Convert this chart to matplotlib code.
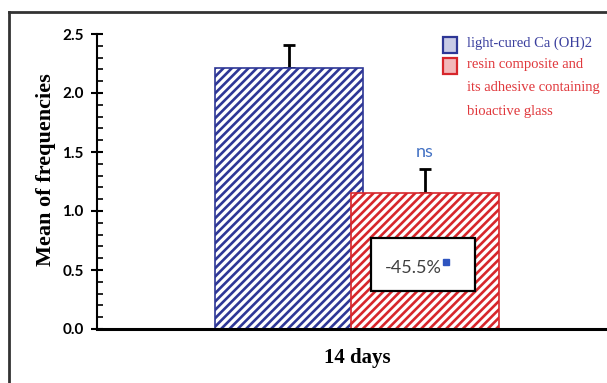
import matplotlib.pyplot as plt
from matplotlib.patches import Rectangle
from matplotlib.lines import Line2D

# mean frequencies at 14 days, with upper error
groups = ["light-cured Ca (OH)2", "resin composite and\nits adhesive containing\nbioactive glass"]
means = [2.21, 1.15]
errors = [0.20, 0.21]
bar_colors = ["#2e3796", "#d7262b"]
text_colors = ["#3a3f9e", "#e0383c"]
key_fill = ["#c9cbe6", "#f2b8ba"]
period = "14 days"
change_label = "-45.5%"
sig_label = "ns"

plt.rcParams['hatch.linewidth'] = 1.9

W, H = 607, 383
fig = plt.figure(figsize=(W / 100, H / 100), dpi=100)

# axes in pixel terms: y-axis at x=97, baseline y=329, 2.5 at y=34
ax = fig.add_axes([97 / W, 1 - 329 / H, (W - 97) / W, (329 - 34) / H])

offset = 0.92
xs = [0, offset]
for x, m, e, c in zip(xs, means, errors, bar_colors):
    ax.bar(x, m, width=1.0, facecolor="white", edgecolor=c, hatch="////",
           linewidth=1.2, zorder=2)
    ax.errorbar(x, m, yerr=[[0], [e]], fmt="none", ecolor="black",
                elinewidth=2.0, capsize=4.2, capthick=2.0, zorder=1)

ax.set_xlim(-(289 - 97) / 148, (W - 289) / 148)
ax.set_ylim(0, 2.5)

for s in ["top", "right"]:
    ax.spines[s].set_visible(False)
ax.spines["left"].set_linewidth(1.5)
ax.spines["bottom"].set_linewidth(2.2)
ax.spines["bottom"].set_zorder(4)

ax.set_yticks([0, 0.5, 1.0, 1.5, 2.0, 2.5])
ax.set_yticks([i / 10 for i in range(26)], minor=True)
ax.tick_params(axis="y", which="major", direction="inout", length=9, width=1.5, pad=5)
ax.tick_params(axis="y", which="minor", direction="in", length=4, width=1.2)
ax.set_yticklabels([f"{v:.1f}" for v in ax.get_yticks()],
                   fontfamily="Lato", fontweight="bold", fontsize=11)

ax.set_xticks([offset / 2])
ax.set_xticklabels([period], fontfamily="Liberation Serif", fontweight="bold", fontsize=15)
ax.tick_params(axis="x", direction="in", length=3, width=1, pad=14)

fig.text(46 / W, 1 - 170 / H, "Mean of frequencies", rotation=90, ha="center", va="center",
         fontfamily="Liberation Serif", fontweight="bold", fontsize=16)

# significance and percentage change on the second bar
ax.text(offset, means[1] + errors[1] + 0.07, sig_label, ha="center", va="bottom",
        color="#4472c4", fontfamily="Lato", fontsize=13)
bx0, bx1 = (371 - 289) / 148, (475 - 289) / 148
by0, by1 = (329 - 291) / 118, (329 - 238) / 118
ax.add_patch(Rectangle((bx0, by0), bx1 - bx0, by1 - by0, facecolor="white",
                       edgecolor="black", linewidth=1.6, zorder=5))
ax.text((413 - 289) / 148, (329 - 268) / 118, change_label, ha="center", va="center",
        color="#404040", fontfamily="Lato", fontsize=13, zorder=6)
ax.plot((446 - 289) / 148, (329 - 262) / 118, marker="s", markersize=4,
        color="#2f55c0", zorder=6)

# legend drawn by hand
leg_y = [45, 66]
for y, c, fc, tc, lab in zip(leg_y, bar_colors, key_fill, text_colors, groups):
    fig.patches.append(Rectangle((443 / W, 1 - (y + 8) / H), 14 / W, 16 / H,
                                 transform=fig.transFigure, facecolor=fc,
                                 edgecolor=c, linewidth=1.6))
    fig.text(467 / W, 1 - (y - 8) / H, lab, ha="left", va="top", color=tc,
             fontfamily="Liberation Serif", fontsize=10.5, linespacing=2.05)

# outer frame
fig.add_artist(Line2D([9 / W, 9 / W], [0, 1 - 12 / H], transform=fig.transFigure,
                      color="#333333", linewidth=2.0))
fig.add_artist(Line2D([9 / W, 1], [1 - 12 / H, 1 - 12 / H], transform=fig.transFigure,
                      color="#333333", linewidth=2.0))

fig.savefig("out.png", dpi=100)
